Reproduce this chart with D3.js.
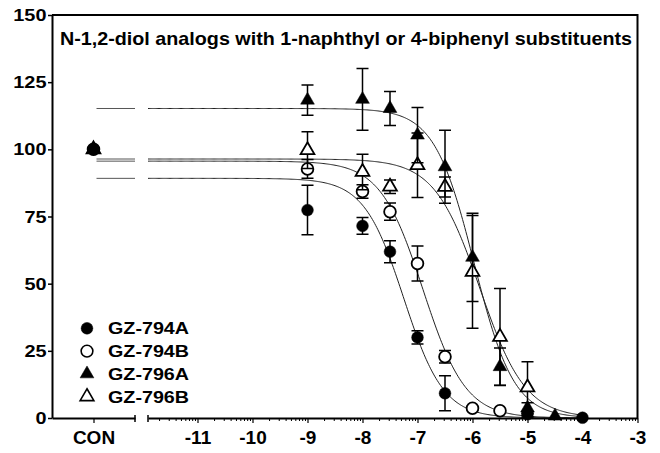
<!DOCTYPE html>
<html>
<head>
<meta charset="utf-8">
<script src="https://cdn.jsdelivr.net/npm/d3@7"></script>
<style>
  body { margin: 0; background: #fff; }
  svg { display: block; }
  text { font-family: "Liberation Sans", Arial, sans-serif; font-weight: bold; fill: #000; }
</style>
</head>
<body>
<svg id="chart" width="660" height="453"></svg>
<script>
// ---- data ----
const seriesNames = ["GZ-794A", "GZ-794B", "GZ-796A", "GZ-796B"];
const controlLabel = ["CON"];
const logDose = [-9, -8, -7.5, -7, -6.5, -6, -5.5, -5, -4.5, -4];
const controlMean = [100, 100, 100, 100];

const mean794A = [77.4, 71.5, 61.9, 30.0, 9.2, null, null, 1.4, null, 0.1];
const sem794A  = [9.2, 3.1, 4.1, 2.5, 6.5, null, null, 1.0, null, 0];
const mean794B = [92.7, 84.3, 76.8, 57.5, 22.8, 3.6, 2.7, null, null, null];
const sem794B  = [3.5, 2.5, 3.2, 6.5, 2.3, 0.5, 0.5, null, null, null];
const mean796A = [118.3, 118.6, 115.2, 105.3, 93.5, 59.8, 19.1, 3.7, 0.7, null];
const sem796A  = [5.6, 11.5, 6.3, 10.3, 13.6, 16.4, 7.0, 2.0, 0, null];
const mean796B = [99.7, 91.6, 86.1, 94.1, 86.0, 54.4, 30.2, 11.4, null, null];
const sem796B  = [6.8, 6.6, 2.5, 12.0, 3.7, 21.0, 18.0, 9.5, null, null];

// four-parameter logistic fit for each compound
const fitTop     = [89.2, 95.6, 115.2, 96.4];
const fitBottom  = [0, 0, 0, 0];
const fitLogIC50 = [-7.25, -6.9, -5.97, -5.865];
const fitHill    = [1.2, 1.12, 1.2, 1.05];

const yTicks = [0, 25, 50, 75, 100, 125, 150];
const xTicks = [-11, -10, -9, -8, -7, -6, -5, -4, -3];
const titleText = "N-1,2-diol analogs with 1-naphthyl or 4-biphenyl substituents";

// ---- layout ----
const svg = d3.select("#chart");
const plot = { left: 52, right: 637.5, top: 15, bottom: 418 };
const conRange = [plot.left, 135];
const logStart = 148;
const logDomain = [-11.9, -3];

const y = d3.scaleLinear().domain([0, 150]).range([plot.bottom, plot.top]);
const xCon = d3.scalePoint().domain(controlLabel).range(conRange).padding(0.5);
const x = d3.scaleLinear().domain(logDomain).range([logStart, plot.right]);

const series = [
  { name: seriesNames[0], mean: mean794A, sem: sem794A, fill: "#000", shape: "circle", fit: 0 },
  { name: seriesNames[1], mean: mean794B, sem: sem794B, fill: "#fff", shape: "circle", fit: 1 },
  { name: seriesNames[2], mean: mean796A, sem: sem796A, fill: "#000", shape: "triangle", fit: 2 },
  { name: seriesNames[3], mean: mean796B, sem: sem796B, fill: "#fff", shape: "triangle", fit: 3 }
];

function logistic(i, v) {
  return fitBottom[i] + (fitTop[i] - fitBottom[i]) / (1 + Math.pow(10, (v - fitLogIC50[i]) * fitHill[i]));
}

function symbolPath(shape) {
  return shape === "circle"
    ? d3.symbol(d3.symbolCircle, 108)()
    : d3.symbol(d3.symbolTriangle, 82)();
}

// ---- fitted curves ----
const curveG = svg.append("g").attr("fill", "none").attr("stroke", "#222").attr("stroke-width", 1);
const samples = d3.range(logDomain[0], -3.95, 0.02);
series.forEach(s => {
  const i = s.fit;
  curveG.append("path")
    .attr("d", d3.line().x(v => x(v)).y(v => y(logistic(i, v)))(samples));
  // plateau continued across the control segment
  const plateau = y(logistic(i, logDomain[0]));
  curveG.append("line")
    .attr("x1", xCon("CON") + 3).attr("x2", conRange[1])
    .attr("y1", plateau).attr("y2", plateau)
    .attr("stroke", "#555");
});

// ---- axes ----
const axisG = svg.append("g");

const yAxis = axisG.append("g")
  .attr("transform", `translate(${plot.left},0)`)
  .call(d3.axisLeft(y).tickValues(yTicks).tickSize(4).tickSizeOuter(0).tickFormat(""));
yAxis.select(".domain").attr("stroke-width", 2);
yAxis.selectAll(".tick line").attr("stroke-width", 1.5);

yTicks.forEach(t => {
  axisG.append("g")
    .attr("transform", `translate(${plot.left - 5.5},${y(t)}) scale(1.17,1)`)
    .append("text")
    .attr("text-anchor", "end")
    .attr("dy", "0.36em")
    .style("font-size", "17px")
    .text(t);
});

const conAxis = axisG.append("g")
  .attr("transform", `translate(0,${plot.bottom})`)
  .call(d3.axisBottom(xCon).tickSize(5).tickSizeOuter(0).tickPadding(8));
conAxis.select(".domain").attr("stroke-width", 2);
conAxis.selectAll(".tick line").attr("stroke-width", 1.2);
conAxis.selectAll(".tick text").style("font-size", "19px").attr("fill", "#000");

const minorTicks = [];
for (let n = -12; n < -3; n++) {
  for (let k = 2; k <= 9; k++) {
    const v = n + Math.log10(k);
    if (v >= logDomain[0] && v <= logDomain[1]) minorTicks.push(v);
  }
}
const minorAxis = axisG.append("g")
  .attr("transform", `translate(0,${plot.bottom})`)
  .call(d3.axisBottom(x).tickValues(minorTicks).tickSize(3).tickSizeOuter(0).tickFormat(""));
minorAxis.select(".domain").remove();
minorAxis.selectAll(".tick line").attr("stroke-width", 1);

const logAxis = axisG.append("g")
  .attr("transform", `translate(0,${plot.bottom})`)
  .call(d3.axisBottom(x).tickValues(xTicks).tickSize(5).tickSizeOuter(0).tickPadding(8)
    .tickFormat(d => String(d)));
logAxis.select(".domain").attr("stroke-width", 2);
logAxis.selectAll(".tick line").attr("stroke-width", 1.2);
logAxis.selectAll(".tick text").style("font-size", "19px").attr("fill", "#000");

// small end ticks on either side of the axis break
[conRange[1], logStart].forEach(px => {
  axisG.append("line")
    .attr("x1", px).attr("x2", px)
    .attr("y1", plot.bottom - 3).attr("y2", plot.bottom + 4)
    .attr("stroke", "#000").attr("stroke-width", 1.5);
});

// frame top and right
axisG.append("path")
  .attr("d", `M${plot.left},${plot.top}H${plot.right}V${plot.bottom}`)
  .attr("fill", "none").attr("stroke", "#000").attr("stroke-width", 2);

// ---- title ----
svg.append("text")
  .attr("x", 60).attr("y", 45)
  .attr("textLength", 572).attr("lengthAdjust", "spacingAndGlyphs")
  .style("font-size", "19px")
  .text(titleText);

// ---- error bars and markers ----
const drawOrder = [1, 3, 2, 0];
const markG = svg.append("g");
drawOrder.forEach(si => {
  const s = series[si];
  const pts = logDose.map((d, j) => ({ px: x(d), m: s.mean[j], e: s.sem[j] }))
    .filter(p => p.m !== null);
  pts.unshift({ px: xCon("CON"), m: controlMean[si], e: 0 });

  const g = markG.append("g");
  pts.filter(p => p.e > 0).forEach(p => {
    const y0 = y(p.m - p.e), y1 = y(p.m + p.e);
    g.append("path")
      .attr("d", `M${p.px},${y0}V${y1}M${p.px - 6},${y1}H${p.px + 6}M${p.px - 6},${y0}H${p.px + 6}`)
      .attr("stroke", "#000").attr("stroke-width", 1.5).attr("fill", "none");
  });
  g.selectAll("path.mark").data(pts).join("path")
    .attr("class", "mark")
    .attr("transform", p => `translate(${p.px},${y(p.m)})`)
    .attr("d", symbolPath(s.shape))
    .attr("fill", s.fill)
    .attr("stroke", "#000")
    .attr("stroke-width", s.fill === "#000" ? 0.5 : 1.8);
});

// ---- legend ----
const legend = svg.append("g");
series.forEach((s, i) => {
  const ly = 328.3 + i * 22.8;
  legend.append("path")
    .attr("transform", `translate(87,${ly})`)
    .attr("d", symbolPath(s.shape))
    .attr("fill", s.fill).attr("stroke", "#000")
    .attr("stroke-width", s.fill === "#000" ? 0.5 : 1.6);
  legend.append("g")
    .attr("transform", `translate(108,${ly}) scale(1.16,1)`)
    .append("text")
    .attr("dy", "0.36em")
    .style("font-size", "17px")
    .text(s.name);
});
</script>
</body>
</html>
